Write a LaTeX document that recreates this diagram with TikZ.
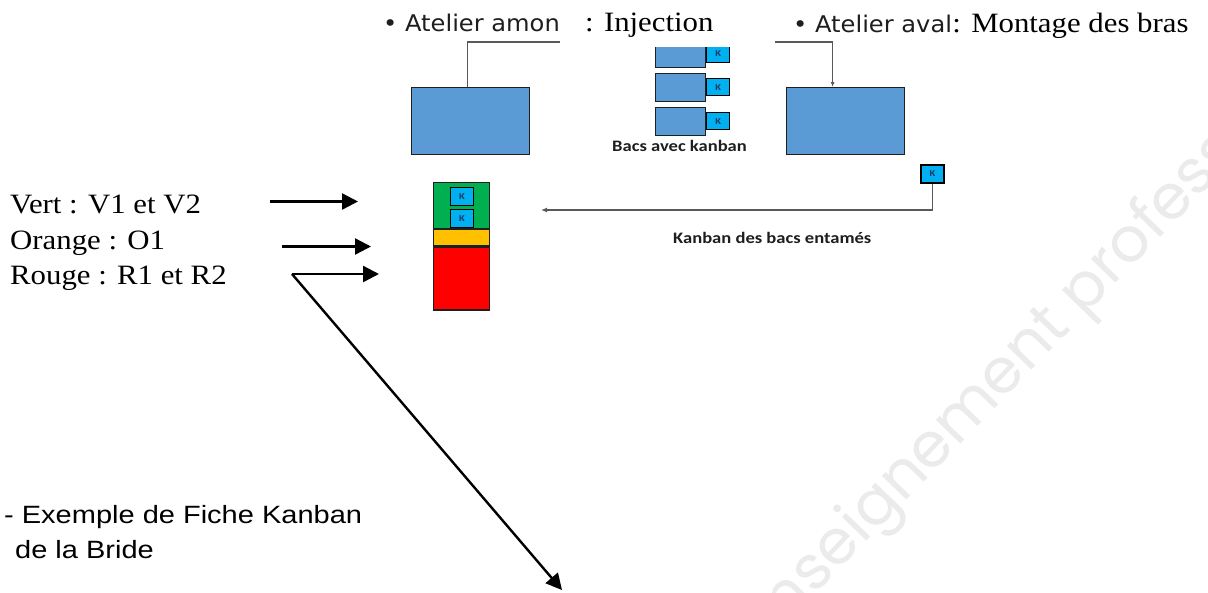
\documentclass[tikz,border=0pt]{standalone}
\usepackage{fontspec}
\setmainfont{Liberation Serif}[FakeStretch=1.1]
\newfontfamily\sansA{Liberation Sans}[FakeStretch=1.16]
\newfontfamily\verd{DejaVu Sans}[FakeStretch=1.05]
\newfontfamily\calib{Carlito}[FakeStretch=1.16]
\newfontfamily\wmark{Poppins}
\usetikzlibrary{arrows.meta,calc}

\definecolor{boxblue}{HTML}{5B9BD5}
\definecolor{tagblue}{HTML}{00B0F0}
\definecolor{kgreen}{HTML}{00B050}
\definecolor{korange}{HTML}{FFC000}
\definecolor{kred}{HTML}{FF0000}
\definecolor{linegray}{HTML}{595959}
\definecolor{edgedark}{HTML}{1F1F1F}
\definecolor{kletter}{HTML}{1F3864}
\definecolor{labelgray}{HTML}{1E1E1E}

\tikzset{
  bigbox/.style={draw=edgedark, line width=1.2pt, fill=boxblue,
    minimum width=118pt, minimum height=67pt, inner sep=0pt, anchor=north west},
  binbox/.style={draw=edgedark, line width=1.2pt, fill=boxblue,
    minimum width=50pt, minimum height=27.5pt, inner sep=0pt, anchor=north west},
  segbox/.style={draw=edgedark, line width=1.2pt, minimum width=56pt,
    inner sep=0pt, anchor=north west},
  tagbox/.style={draw=black, line width=1.2pt, fill=tagblue,
    minimum width=23pt, minimum height=17pt, inner sep=0pt,
    font=\calib\bfseries\fontsize{9}{10}\selectfont, text=kletter},
  txt/.style={inner sep=0pt, anchor=base west},
  timestxt/.style={txt, font=\fontsize{28}{33}\selectfont},
  verdtxt/.style={txt, text=labelgray, font=\verd\fontsize{23}{27}\selectfont},
  calibtxt/.style={txt, text=labelgray, font=\calib\bfseries\fontsize{16}{19}\selectfont},
  arialtxt/.style={txt, font=\sansA\fontsize{25}{30}\selectfont},
  conn/.style={draw=linegray, line width=1.3pt},
  smalltip/.style={-{Latex[length=6pt,width=5pt]}},
  bigarrow/.style={draw=black, line width=2.4pt, -{Triangle[length=16pt,width=16pt]}},
}

\begin{document}
\begin{tikzpicture}[x=1pt, y=-1pt]
  \useasboundingbox (0,0) rectangle (1208,592);
  \fill[white] (0,0) rectangle (1208,592);

  % faint watermark behind everything
  \begin{scope}
    \clip (0,0) rectangle (1208,592);
    \node[rotate=46, anchor=base west, inner sep=0pt, text=black!8,
          font=\wmark\fontsize{62}{62}\selectfont] (wm) at (760,652)
          {enseignement professionnel};
  \end{scope}

  % headings
  \node[verdtxt] (amon) at (383,31) {• Atelier amon};
  \node[timestxt] (inj) at (585,31) {: Injection};
  \node[verdtxt] (aval) at (793,32) {• Atelier aval};
  \node[timestxt] (mont) at (aval.base east) {: Montage des bras};

  % workshops
  \node[bigbox] (boxL) at (411,87) {};
  \node[bigbox] (boxR) at (786,87) {};

  \coordinate (avs) at (775,42);
  \draw[conn] (amon.east |- 0,42) -| ([xshift=-3pt]boxL.north);
  \draw[conn, -{Latex[length=5pt,width=4pt]}] (avs) -| ([xshift=-13pt]boxR.north);

  % bins with kanban cards
  \begin{scope}
    \clip (640,47) rectangle (760,140);
    \node[binbox] (bin1) at (655,39.5) {};
    \node[tagbox, anchor=west] (t1) at (bin1.east) {K};
  \end{scope}
  \node[binbox] (bin2) at (655,73) {};
  \node[tagbox, anchor=west] (t2) at (bin2.east) {K};
  \node[binbox] (bin3) at (655,107) {};
  \node[tagbox, anchor=west] (t3) at (bin3.east) {K};
  \node[calibtxt] (bacs) at (612,151) {Bacs avec kanban};

  % kanban board
  \node[segbox, fill=kgreen, minimum height=46pt] (green) at (433,182) {};
  \node[segbox, fill=korange, minimum height=16pt] (orange) at (green.south west) {};
  \node[segbox, fill=kred, minimum height=63pt] (red) at (orange.south west) {};
  \node[tagbox, minimum height=18pt, anchor=north west] (kg1) at (450,187) {K};
  \node[tagbox, minimum height=18pt, anchor=north west] (kg2) at (450,209) {K};

  % returned card
  \node[tagbox, minimum height=18pt] (kR) at (932.5,174) {K};
  \coordinate (ret) at (541,210);
  \draw[conn, smalltip] (kR.south) |- (ret);
  \node[calibtxt] (entam) at (673,243) {Kanban des bacs entamés};

  % colour legend
  \node[timestxt] (vert) at (10,213) {Vert : V1 et V2};
  \node[timestxt] (orng) at (10,249.5) {Orange : O1};
  \node[timestxt] (roug) at (10,284) {Rouge : R1 et R2};

  \coordinate (a1s) at (270,201.5);
  \coordinate (a1e) at (358,201.5);
  \coordinate (a2s) at (282,246.5);
  \coordinate (a2e) at (371,246.5);
  \coordinate (a3s) at (292,274);
  \coordinate (a3e) at (379,274);
  \coordinate (dgE) at (562,590);
  \draw[bigarrow] (a1s) -- (a1e);
  \draw[bigarrow] (a2s) -- (a2e);
  \draw[bigarrow] (a3s) -- (a3e);
  \draw[bigarrow] (a3s) -- (dgE);

  % example card caption
  \node[arialtxt] (ex1) at (4,523) {- Exemple de Fiche Kanban};
  \node[arialtxt] (ex2) at (15,558) {de la Bride};
\end{tikzpicture}
\end{document}
